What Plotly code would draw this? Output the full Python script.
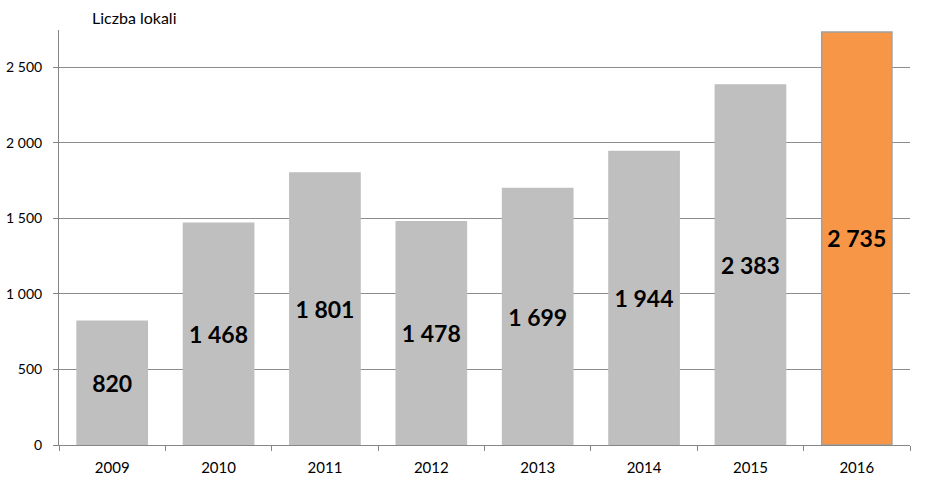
import plotly.graph_objects as go

years = ["2009", "2010", "2011", "2012", "2013", "2014", "2015", "2016"]
values = [820, 1468, 1801, 1478, 1699, 1944, 2383, 2735]
labels = ["820", "1 468", "1 801", "1 478", "1 699", "1 944", "2 383", "2 735"]
colors = ["#bfbfbf"] * 7 + ["#f79646"]
line_colors = ["#bfbfbf"] * 7 + ["#a0a0a0"]
yticks = [0, 500, 1000, 1500, 2000, 2500]
yticklabels = ["0", "500", "1 000", "1 500", "2 000", "2 500"]

fig = go.Figure(go.Bar(
    x=years, y=values, text=labels,
    textposition="inside", insidetextanchor="middle",
    textfont=dict(family="Lato", size=23, color="black", weight="bold"),
    marker=dict(color=colors, line=dict(color=line_colors, width=1.5)),
    textangle=0, cliponaxis=False,
))
fig.update_layout(
    width=926, height=488,
    margin=dict(l=59, r=16, t=30, b=43),
    plot_bgcolor="white", paper_bgcolor="white",
    bargap=0.34, showlegend=False,
    font=dict(family="Lato", size=14, color="black"),
    uniformtext=dict(minsize=8, mode="show"),
    annotations=[dict(text="Liczba lokali", xref="paper", yref="paper", x=0.036, y=1.0,
                      xanchor="left", yanchor="bottom", yshift=1, showarrow=False,
                      font=dict(family="Lato", size=16, color="black"))],
)
fig.update_xaxes(
    type="category", showline=True, linecolor="#868686", linewidth=1,
    ticks="outside", tickson="boundaries", ticklen=5, tickcolor="#868686",
    showgrid=False, tickfont=dict(size=15), ticklabelstandoff=9, automargin=False,
)
fig.update_yaxes(
    range=[0, 2748], tickvals=yticks, ticktext=yticklabels,
    showline=True, linecolor="#868686", linewidth=1,
    ticks="outside", ticklen=5, tickcolor="#868686",
    showgrid=True, gridcolor="#8c8c8c", gridwidth=1,
    zeroline=False, tickfont=dict(size=14), ticklabelstandoff=8, automargin=False,
)
fig.write_html("out.html")
